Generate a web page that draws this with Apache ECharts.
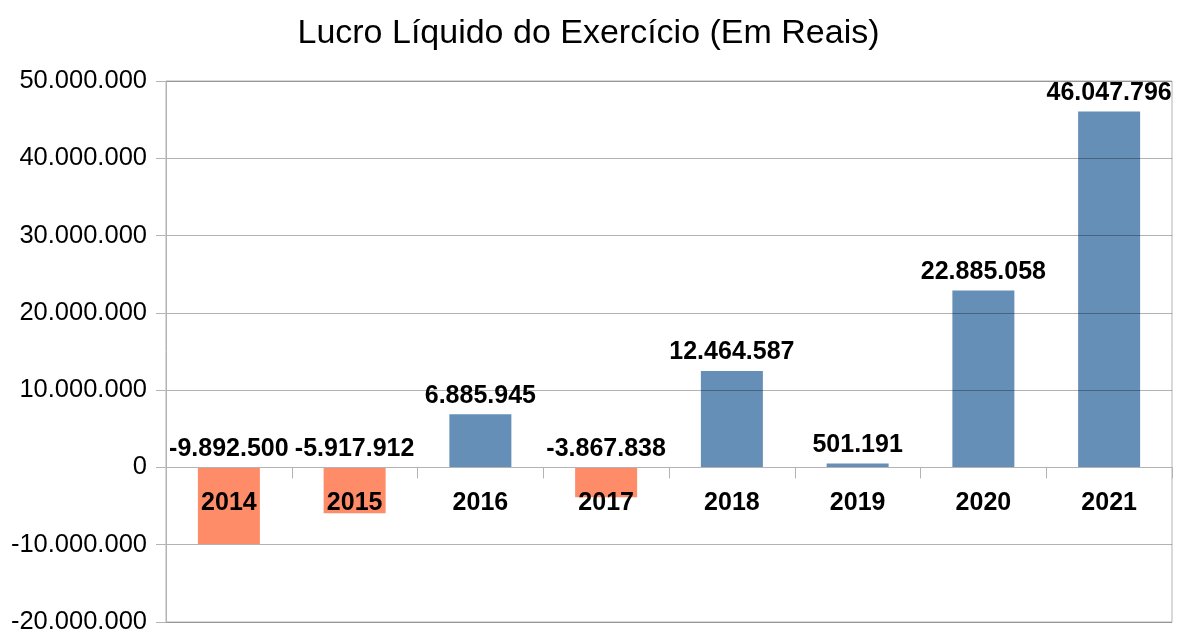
<!DOCTYPE html>
<html>
<head>
<meta charset="utf-8">
<script src="https://cdn.jsdelivr.net/npm/echarts@6/dist/echarts.min.js"></script>
<style>
  html, body { margin: 0; padding: 0; background: #fff; }
  #main { width: 1177px; height: 634px; }
</style>
</head>
<body>
<div id="main"></div>
<script>
var anos = ['2014', '2015', '2016', '2017', '2018', '2019', '2020', '2021'];
var lucro = [-9892500, -5917912, 6885945, -3867838, 12464587, 501191, 22885058, 46047796];
var yMin = -20000000, yMax = 50000000, yStep = 10000000;

var corPositivo = '#668fb8';
var corNegativo = '#ff8c69';

// formata numero com ponto de milhar
function fmt(v) {
    var s = String(Math.abs(v)).replace(/\B(?=(\d{3})+(?!\d))/g, '.');
    return (v < 0 ? '-' : '') + s;
}

var gridTop = 81, gridBottom = 12;
var plotH = 634 - gridTop - gridBottom;
// eixo x desenhado na linha do zero
var xOffset = -plotH * (0 - yMin) / (yMax - yMin);

var myChart = echarts.init(document.getElementById('main'));

var option = {
    animation: false,
    textStyle: { fontFamily: 'Liberation Sans' },
    title: {
        text: 'Lucro Líquido do Exercício (Em Reais)',
        left: 'center',
        top: 12,
        textStyle: { fontSize: 34, fontWeight: 'normal', color: '#000', fontFamily: 'Liberation Sans' }
    },
    grid: {
        left: 166,
        right: 5,
        top: gridTop,
        bottom: gridBottom,
        outerBoundsMode: 'none',
        containLabel: false,
        show: true,
        borderColor: '#b3b3b3',
        borderWidth: 1
    },
    xAxis: {
        type: 'category',
        data: anos,
        z: 10,
        offset: xOffset,
        axisLine: { onZero: false, lineStyle: { color: '#b3b3b3' } },
        axisTick: { show: true, length: 11, lineStyle: { color: '#b3b3b3' } },
        axisLabel: {
            margin: 23,
            fontSize: 25,
            fontWeight: 'bold',
            color: '#000',
            fontFamily: 'Liberation Sans'
        }
    },
    yAxis: {
        type: 'value',
        min: yMin,
        max: yMax,
        interval: yStep,
        z: 10,
        axisLine: { show: true, lineStyle: { color: '#b3b3b3' } },
        axisTick: { show: true, length: 10, lineStyle: { color: '#b3b3b3' } },
        splitLine: { lineStyle: { color: 'rgba(0,0,0,0.3)' } },
        axisLabel: {
            margin: 19,
            fontSize: 25.5,
            color: '#000',
            fontFamily: 'Liberation Sans',
            formatter: function (v) { return fmt(v); }
        }
    },
    series: [
        {
            name: 'Lucro',
            type: 'bar',
            barWidth: 62,
            data: lucro.map(function (v) {
                return { value: v, itemStyle: { color: v < 0 ? corNegativo : corPositivo } };
            })
        },
        {
            // rotulos de valor acima da barra (ou acima do zero se negativo)
            name: 'rotulos',
            type: 'scatter',
            symbolSize: 0,
            silent: true,
            z: 12,
            itemStyle: { opacity: 1 },
            data: lucro.map(function (v) { return Math.max(v, 0); }),
            label: {
                show: true,
                position: 'top',
                distance: 6,
                fontSize: 25,
                fontWeight: 'bold',
                color: '#000',
                textBorderWidth: 0,
                fontFamily: 'Liberation Sans',
                formatter: function (p) { return fmt(lucro[p.dataIndex]); }
            }
        }
    ]
};

myChart.setOption(option);
</script>
</body>
</html>
